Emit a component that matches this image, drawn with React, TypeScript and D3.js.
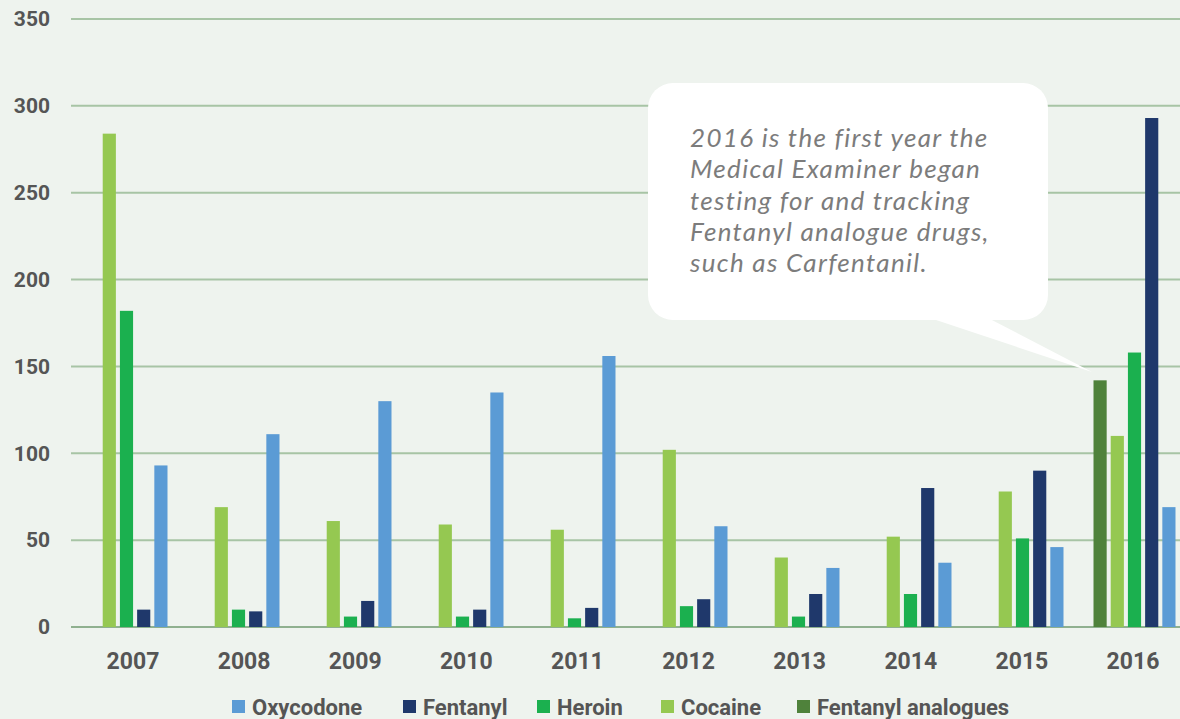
import React from "react";
import * as d3 from "d3";

const years = ["2007", "2008", "2009", "2010", "2011", "2012", "2013", "2014", "2015", "2016"];
const seriesOrder = ["Fentanyl analogues", "Cocaine", "Heroin", "Fentanyl", "Oxycodone"];
const legendOrder = ["Oxycodone", "Fentanyl", "Heroin", "Cocaine", "Fentanyl analogues"];
const oxycodone = [93, 111, 130, 135, 156, 58, 34, 37, 46, 69];
const fentanyl = [10, 9, 15, 10, 11, 16, 19, 80, 90, 293];
const heroin = [182, 10, 6, 6, 5, 12, 6, 19, 51, 158];
const cocaine = [284, 69, 61, 59, 56, 102, 40, 52, 78, 110];
const analogues = [0, 0, 0, 0, 0, 0, 0, 0, 0, 142];
const yTicks = [0, 50, 100, 150, 200, 250, 300, 350];
const noteLines = [
  "2016 is the first year the",
  "Medical Examiner began",
  "testing for and tracking",
  "Fentanyl analogue drugs,",
  "such as Carfentanil.",
];

const colors: Record<string, string> = {
  Oxycodone: "#5b9bd5",
  Fentanyl: "#1f386b",
  Heroin: "#1bb04f",
  Cocaine: "#95c851",
  "Fentanyl analogues": "#4f823b",
};

const valuesBySeries: Record<string, number[]> = {
  Oxycodone: oxycodone,
  Fentanyl: fentanyl,
  Heroin: heroin,
  Cocaine: cocaine,
  "Fentanyl analogues": analogues,
};

export default function App() {
  const W = 1180;
  const H = 719;
  const x = d3.scaleBand<string>().domain(years).range([70.5, 1190.5]).paddingInner(0.268).paddingOuter(0.134);
  const xi = d3.scaleBand<string>().domain(seriesOrder).range([0, x.bandwidth()]).paddingInner(0.235);
  const y = d3.scaleLinear().domain([0, 350]).range([627, 19]);
  const xl = d3.scalePoint<string>().domain(years).range([133, 1133]);
  const font = "Roboto, 'Liberation Sans', sans-serif";
  const legendX = [232, 403, 537, 661, 797];

  const tail = d3.line()([
    [930, 318],
    [988, 318],
    [1092, 372],
  ]);

  return (
    <svg width={W} height={H} style={{ position: "absolute", left: 0, top: 0 }}>
      <rect x={0} y={0} width={W} height={H} fill="#eef3ee" />
      {yTicks.map((t) => (
        <g key={t}>
          <line x1={71} x2={W} y1={y(t)} y2={y(t)} stroke={t === 0 ? "#8fb08f" : "#a7c4a5"} strokeWidth={2} />
          <text x={50} y={y(t)} dy="0.35em" textAnchor="end" fontFamily={font} fontWeight={700} fontSize={21} fill="#555">
            {t}
          </text>
        </g>
      ))}
      {years.map((yr, i) => (
        <g key={yr}>
          {seriesOrder.map((s) => {
            const v = valuesBySeries[s][i];
            if (!v) return null;
            return (
              <rect
                key={s}
                x={(x(yr) as number) + (xi(s) as number)}
                y={y(v)}
                width={xi.bandwidth()}
                height={y(0) - y(v)}
                fill={colors[s]}
              />
            );
          })}
          <text x={xl(yr)} y={669} textAnchor="middle" fontFamily={font} fontWeight={700} fontSize={23} fill="#555">
            {yr}
          </text>
        </g>
      ))}
      <path d={tail as string} fill="#ffffff" />
      <rect x={648} y={83} width={400} height={237} rx={25} ry={25} fill="#ffffff" />
      {noteLines.map((l, i) => (
        <text
          key={i}
          x={690}
          y={147 + i * 31.3}
          fontFamily="Lato, 'Open Sans', sans-serif"
          fontStyle="italic"
          fontSize={26}
          letterSpacing={1.3}
          fill="#7c7c7c"
        >
          {l}
        </text>
      ))}
      {legendOrder.map((s, i) => (
        <g key={s}>
          <rect x={legendX[i]} y={700} width={13} height={13} fill={colors[s]} />
          <text x={legendX[i] + 20} y={707} dy="0.36em" fontFamily={font} fontWeight={700} fontSize={22} fill="#555">
            {s}
          </text>
        </g>
      ))}
    </svg>
  );
}
